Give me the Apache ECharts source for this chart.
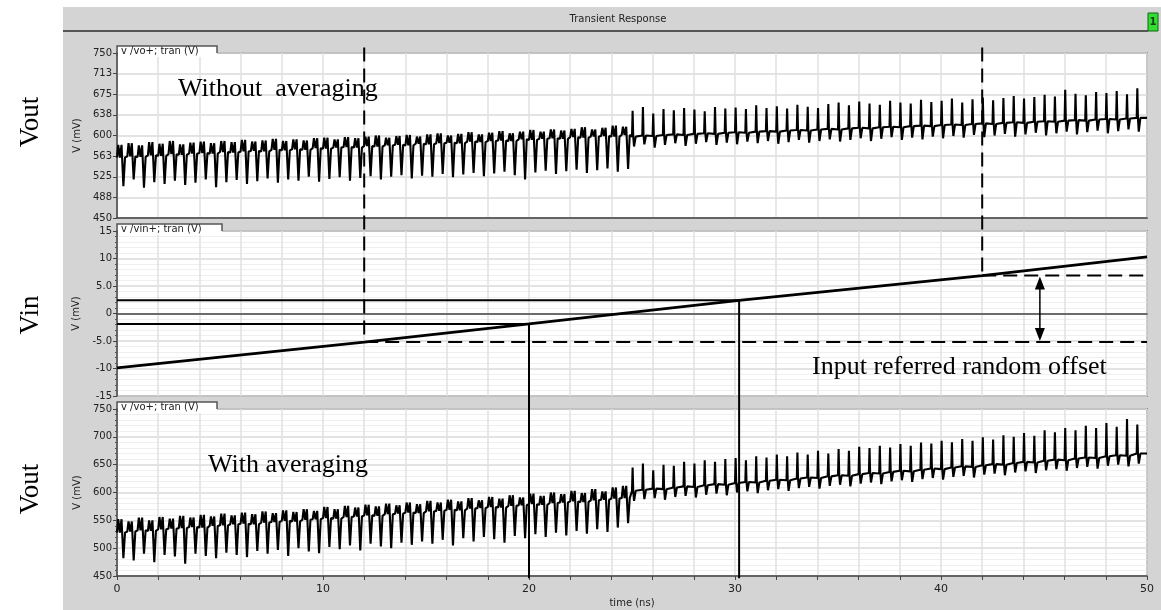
<!DOCTYPE html>
<html><head><meta charset="utf-8">
<script src="https://cdn.jsdelivr.net/npm/echarts@6/dist/echarts.min.js"></script>
<style>html,body{margin:0;padding:0;background:#fff}#c{width:1161px;height:610px}</style>
</head><body><div id="c"></div>
<script>
// ---- data ----
const cyclePeriod = 0.5;           // ns per cycle
const changeCycle = 50;            // waveform changes shape at ~25 ns
// Top panel (without averaging), per cycle: body level, top, bottom (mV)
const topMid = [560,562,561,564,563,566,565,567,568,567,570,569,571,572,571,574,573,575,574,577,576,578,579,578,581,580,582,583,582,585,584,586,587,586,589,588,590,591,590,593,592,594,595,594,597,596,598,599,598,601,
598,600,599,601,602,601,603,604,603,605,606,605,607,608,607,609,610,609,611,612,611,613,614,613,615,616,615,617,618,617,619,620,619,621,622,621,623,624,623,625,626,625,627,628,627,629,630,629,631,632];
const topHi = [583,586,582,588,585,590,584,587,589,586,590,588,592,589,591,594,590,593,591,595,596,593,597,595,598,600,596,599,601,598,602,604,600,603,606,602,605,608,604,607,610,607,611,609,612,615,611,614,618,616,
645,652,640,648,646,650,647,644,652,649,651,648,655,650,653,649,656,652,650,657,660,655,662,658,656,663,660,658,665,661,663,667,660,666,669,664,668,672,667,670,674,671,683,676,673,679,677,681,675,686];
const topLo = [508,520,505,515,512,518,510,514,520,506,515,519,512,517,522,514,520,518,525,516,521,524,518,523,526,520,525,528,522,527,525,530,524,529,532,526,531,534,528,520,533,536,530,535,538,532,537,540,534,539,
580,584,578,583,586,581,585,588,583,587,584,589,586,590,585,588,592,587,590,593,589,592,595,590,594,597,592,596,593,598,595,599,596,601,597,600,603,598,602,605,600,604,607,602,606,609,604,608,611,607];
// Bottom panel (with averaging)
const botMid = [528,530,532,531,534,535,536,538,537,540,541,543,544,543,546,547,549,548,551,552,554,553,556,557,559,558,561,562,564,563,566,567,569,568,571,572,574,573,576,577,579,578,581,582,584,583,586,587,589,590,
603,605,607,606,609,611,610,613,615,614,617,619,618,621,623,622,625,627,626,629,631,630,633,635,634,637,639,638,641,643,642,645,647,646,649,651,650,653,655,654,657,659,658,661,663,662,665,667,666,670];
const botHi = [552,548,555,550,556,553,558,555,560,557,562,559,564,561,566,563,568,565,570,567,574,570,576,573,578,575,580,577,582,579,585,582,587,584,590,586,592,589,595,591,598,594,600,597,603,599,606,602,609,612,
645,652,640,650,648,655,652,658,655,660,662,658,665,663,668,665,672,668,675,670,678,675,682,680,684,681,687,684,690,688,693,690,696,693,699,695,703,700,707,702,712,708,716,712,720,716,725,718,732,722];
const botLo = [482,478,490,475,488,485,472,490,486,482,492,488,484,495,490,497,486,500,494,491,502,498,505,496,508,503,500,510,506,512,508,515,505,518,512,520,516,510,522,518,525,520,528,523,531,526,534,529,537,545,
585,588,590,587,592,594,591,596,598,595,600,602,599,604,606,603,608,610,607,612,614,611,616,618,615,620,622,619,624,626,623,628,630,627,632,634,631,636,638,635,640,642,639,644,646,643,648,650,647,652];
// Vin ramp (mV)
const vinTime = [0, 12, 20, 30.2, 42, 50];
const vinVal  = [-9.9, -5.2, -1.9, 2.4, 6.9, 10.3];
// annotation cursors
const cursorTime = [12, 42];       // dashed verticals
const cursorVin  = [-5.2, 6.9];
const crossTime  = [20, 30.2];     // solid verticals
const crossVin   = [-1.9, 2.4];
const arrowTime  = 44.8;
// tick labels
const topTickLabels = ['450','488','525','563','600','638','675','713','750'];
const vinTickLabels = ['-15','-10','-5.0','0','5.0','10','15'];
const botTickLabels = ['450','500','550','600','650','700','750'];
const timeTickLabels = ['0','10','20','30','40','50'];

// ---- build traces ----
const shapeEarly = [[0,'m'],[0.06,'h'],[0.14,'m'],[0.22,'h'],[0.31,'l'],[0.39,'m']];
const shapeLate  = [[0,'m'],[0.03,'h'],[0.06,'m'],[0.1,'l'],[0.18,'m']];
function buildWave(mid, hi, lo){
  const pts = [];
  for (let i=0;i<mid.length;i++){
    const t0 = i*cyclePeriod;
    const shape = i<changeCycle ? shapeEarly : shapeLate;
    for (const [f,k] of shape){
      const v = k==='m'?mid[i]:(k==='h'?hi[i]:lo[i]);
      pts.push([t0+f*cyclePeriod*2, v]);
    }
  }
  pts.push([mid.length*cyclePeriod, mid[mid.length-1]]);
  return pts;
}
const topWave = buildWave(topMid, topHi, topLo);
const botWave = buildWave(botMid, botHi, botLo);
const vinData = vinTime.map((t,i)=>[t, vinVal[i]]);

const chart = echarts.init(document.getElementById('c'), null, {renderer:'canvas'});
const sans = '"DejaVu Sans", sans-serif';
const serif = '"Liberation Serif", "Times New Roman", serif';
const gridStyle = {show:true, backgroundColor:'#fff', borderColor:'#5a5a5a', borderWidth:1.5};
function xAx(gi, showLabels){
  return {type:'value', gridIndex:gi, min:0, max:50, interval:2,
    axisLine:{show:true, lineStyle:{color:'#444', width:1.5}},
    axisTick:{show:showLabels, length:4, lineStyle:{color:'#444'}},
    axisLabel:{show:showLabels, color:'#222', fontFamily:sans, fontSize:11, margin:8,
      formatter:v=> (Math.round(v)%10===0 ? timeTickLabels[Math.round(v)/10] : '')},
    splitLine:{show:true, lineStyle:{color:'#e0e0e0', width:1.5}},
    name: showLabels ? 'time (ns)' : '', nameLocation:'middle', nameGap:22,
    nameTextStyle:{color:'#222', fontFamily:sans, fontSize:10}};
}
function yAx(gi, min, max, interval, labels, minor){
  return {type:'value', gridIndex:gi, min:min, max:max, interval:interval,
    name:'V (mV)', nameLocation:'middle', nameGap:30, nameRotate:90,
    nameTextStyle:{color:'#222', fontFamily:sans, fontSize:10},
    axisLine:{show:true, lineStyle:{color:'#444', width:1.5}},
    axisTick:{show:true, length:4, lineStyle:{color:'#444'}},
    minorTick:{show:minor>0, splitNumber:minor||5, length:2, lineStyle:{color:'#555'}},
    axisLabel:{color:'#222', fontFamily:sans, fontSize:10, margin:5,
      formatter:v=>labels[Math.round((v-min)/interval)]},
    splitLine:{show:true, lineStyle:{color:'#dadada', width:1.5}},
    minorSplitLine:{show:minor>0, lineStyle:{color:'#efefef', width:1}}};
}
const option = {
  animation:false,
  backgroundColor:'#d4d4d4',
  grid:[
    Object.assign({left:117, right:14, top:53, height:165}, gridStyle),
    Object.assign({left:117, right:14, top:231, height:165}, gridStyle),
    Object.assign({left:117, right:14, top:409, height:167}, gridStyle)
  ],
  xAxis:[xAx(0,false), xAx(1,false), xAx(2,true)],
  yAxis:[yAx(0,450,750,37.5,topTickLabels,0), yAx(1,-15,15,5,vinTickLabels,5), yAx(2,450,750,50,botTickLabels,5)],
  series:[
    {type:'line', xAxisIndex:0, yAxisIndex:0, data:topWave, showSymbol:false, lineStyle:{color:'#000', width:2.1}},
    {type:'line', xAxisIndex:1, yAxisIndex:1, data:vinData, showSymbol:false, lineStyle:{color:'#000', width:2.8}},
    {type:'line', xAxisIndex:2, yAxisIndex:2, data:botWave, showSymbol:false, lineStyle:{color:'#000', width:2.1}}
  ]
};
chart.setOption(option);

const P = (g,x,y)=>chart.convertToPixel({gridIndex:g},[x,y]);
const els = [];
function txt(x,y,text,font,align,rot,fill){
  els.push({type:'text', x:x, y:y, rotation:rot||0, z:120,
    style:{text:text, font:font, fill:fill||'#000', textAlign:align||'left', align:align||'left',
      textVerticalAlign:'middle', verticalAlign:'middle'}});
}
function line(a,b,w,dash,col){
  els.push({type:'line', z:110, shape:{x1:a[0],y1:a[1],x2:b[0],y2:b[1]},
    style:{stroke:col||'#000', lineWidth:w, lineDash:dash||null}});
}
// white margins
els.push({type:'rect', z:1, shape:{x:0,y:0,width:63,height:610}, style:{fill:'#fff'}});
els.push({type:'rect', z:1, shape:{x:0,y:0,width:1161,height:7}, style:{fill:'#fff'}});
// title bar
txt(618,19,'Transient Response','10px '+sans,'center',0,'#222');
line([63,31],[1148,31],2,null,'#555');
els.push({type:'rect', z:115, shape:{x:1148,y:13,width:10,height:18}, style:{fill:'#33dd33', stroke:'#116611', lineWidth:1}});
txt(1153,22,'1','bold 10px '+sans,'center',0,'#114411');
// panel tabs
const tabs = [[53,'v /vo+; tran (V)',100],[231,'v /vin+; tran (V)',105],[409,'v /vo+; tran (V)',100]];
for (const [top,label,w] of tabs){
  els.push({type:'rect', z:105, shape:{x:118,y:top-7,width:w-1,height:11}, style:{fill:'#fff'}});
  els.push({type:'polyline', z:106, shape:{points:[[117,top+3],[117,top-7],[117+w,top-7],[117+w,top]]},
    style:{stroke:'#555', lineWidth:1.5, fill:null}});
  txt(121,top-2,label,'10px '+sans,'left',0,'#222');
}
// big side labels
txt(31,122,'Vout','27px '+serif,'center',Math.PI/2);
txt(31,315,'Vin','27px '+serif,'center',Math.PI/2);
txt(31,489,'Vout','27px '+serif,'center',Math.PI/2);
// in-plot captions
txt(178,89,'Without  averaging','26px '+serif,'left');
txt(208,465,'With averaging','26px '+serif,'left');
txt(812,367,'Input referred random offset','26px '+serif,'left');
// dashed cursors
for (let i=0;i<cursorTime.length;i++){
  const t = cursorTime[i], v = cursorVin[i];
  const top = P(0,t,760), hit = P(1,t,v), end = P(1,50,v);
  line(top,hit,2,[14,7]);
  line(hit,end,2,[14,7]);
}
// solid crossings
for (let i=0;i<crossTime.length;i++){
  const t = crossTime[i], v = crossVin[i];
  const start = P(1,0,v), hit = P(1,t,v), bot = P(2,t,446);
  line(start,hit,2);
  line(hit,bot,2);
}
// double arrow
const aTop = P(1,arrowTime,cursorVin[1]), aBot = P(1,arrowTime,cursorVin[0]);
line([aTop[0],aTop[1]+12],[aBot[0],aBot[1]-12],1.5);
els.push({type:'polygon', z:110, shape:{points:[[aTop[0],aTop[1]+1],[aTop[0]-5,aTop[1]+14],[aTop[0]+5,aTop[1]+14]]}, style:{fill:'#000'}});
els.push({type:'polygon', z:110, shape:{points:[[aBot[0],aBot[1]-1],[aBot[0]-5,aBot[1]-14],[aBot[0]+5,aBot[1]-14]]}, style:{fill:'#000'}});

chart.setOption({graphic:{elements:els}});
</script></body></html>
